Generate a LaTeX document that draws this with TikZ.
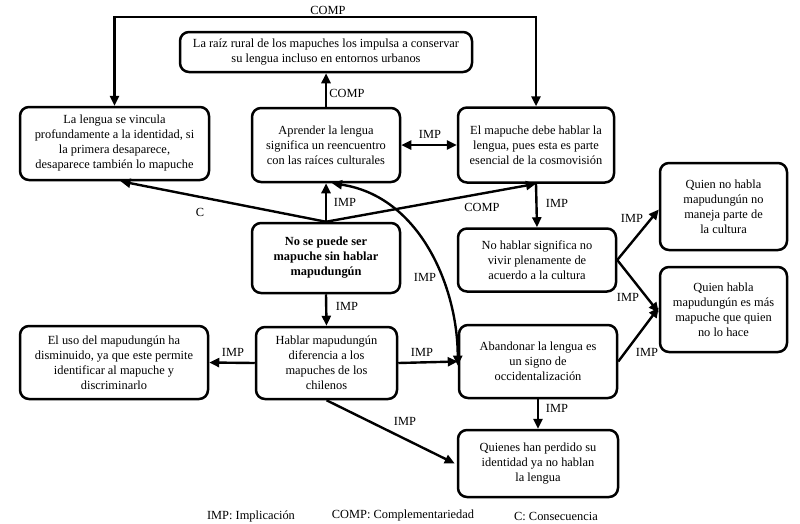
\documentclass[tikz,border=0pt]{standalone}
\usepackage{fontspec}
\setmainfont{Liberation Serif}
\usetikzlibrary{arrows.meta}
\tikzset{
  box/.style={draw, line width=2.5pt, rounded corners=9pt, align=center, inner sep=2pt,
    font=\fontsize{12.4}{15}\selectfont},
  lbl/.style={inner sep=0pt, font=\fontsize{12.4}{14}\selectfont},
  arr/.style={line width=2.4pt, -{Triangle[length=10pt,width=9pt]}},
  dbl/.style={line width=2.4pt, {Triangle[length=10pt,width=9pt]}-{Triangle[length=10pt,width=9pt]}},
}
\begin{document}
\begin{tikzpicture}[x=1pt,y=-1pt]
\useasboundingbox (0,0) rectangle (800,523);
% boxes
\node[box, minimum width=292pt, minimum height=40pt] (raiz) at (326,52)
  {La raíz rural de los mapuches los impulsa a conservar\\ su lengua incluso en entornos urbanos};
\node[box, minimum width=189pt, minimum height=73pt] (lengua) at (114.5,143.5)
  {La lengua se vincula\\ profundamente a la identidad, si\\ la primera desaparece,\\ desaparece también lo mapuche};
\node[box, minimum width=148pt, minimum height=74pt] (aprender) at (326,145)
  {Aprender la lengua\\ significa un reencuentro\\ con las raíces culturales};
\node[box, minimum width=156pt, minimum height=75pt] (mapuche) at (536,145)
  {El mapuche debe hablar la\\ lengua, pues esta es parte\\ esencial de la cosmovisión};
\node[box, minimum width=148pt, minimum height=70pt, font=\fontsize{12.4}{15}\selectfont\bfseries] (nose) at (326,258)
  {No se puede ser\\ mapuche sin hablar\\ mapudungún};
\node[box, minimum width=141pt, minimum height=72pt] (hablar) at (326.5,363)
  {Hablar mapudungún\\ diferencia a los\\ mapuches de los\\ chilenos};
\node[box, minimum width=188pt, minimum height=73pt] (uso) at (114,362.5)
  {El uso del mapudungún ha\\ disminuido, ya que este permite\\ identificar al mapuche y\\ discriminarlo};
\node[box, minimum width=158pt, minimum height=63pt] (nohablar) at (537,260)
  {No hablar significa no\\ vivir plenamente de\\ acuerdo a la cultura};
\node[box, minimum width=158pt, minimum height=73pt] (abandonar) at (538,361.5)
  {Abandonar la lengua es\\ un signo de\\ occidentalización};
\node[box, minimum width=160pt, minimum height=67pt] (quienes) at (538,463.5)
  {Quienes han perdido su\\ identidad ya no hablan\\ la lengua};
\node[box, minimum width=127pt, minimum height=87pt] (quiennohabla) at (723.5,206.5)
  {Quien no habla\\ mapudungún no\\ maneja parte de\\ la cultura};
\node[box, minimum width=127pt, minimum height=85pt] (quienhabla) at (723.5,309.5)
  {Quien habla\\ mapudungún es más\\ mapuche que quien\\ no lo hace};
% connectors
\draw[dbl] (lengua.north) -- ++(0,-89) -| (mapuche.north);
\draw[arr] (aprender.north) -- (raiz.south);
\draw[dbl] (aprender.east) -- (mapuche.west);
\draw[arr] (nose.north) -- (aprender.south);
\draw[arr] (nose.north) -- ([xshift=6pt]lengua.south);
\draw[arr] (nose.north) -- (mapuche.south);
\draw[dbl] ([xshift=6pt]aprender.south) .. controls +(88,13) and +(0,-78) .. ([yshift=-4pt]abandonar.west);
\draw[arr] (nose.south) -- (hablar.north);
\draw[arr] (hablar.west) -- (uso.east);
\draw[arr] (hablar.east) -- (abandonar.west);
\draw[arr] (hablar.south) -- ([xshift=-2pt]quienes.west);
\draw[arr] (mapuche.south) -- (nohablar.north);
\draw[arr] (nohablar.east) -- ([yshift=-3pt]quiennohabla.west);
\draw[arr] (nohablar.east) -- ([yshift=-3pt]quienhabla.west);
\draw[arr] (abandonar.east) -- ([yshift=2pt]quienhabla.west);
\draw[arr] (abandonar.south) -- (quienes.north);
% labels
\node[lbl] (l1) at (328,10) {COMP};
\node[lbl] (l2) at (347,93) {COMP};
\node[lbl] (l3) at (430,134) {IMP};
\node[lbl] (l4) at (345,202) {IMP};
\node[lbl] (l5) at (200,212) {C};
\node[lbl] (l6) at (482,207) {COMP};
\node[lbl] (l7) at (425,277) {IMP};
\node[lbl] (l8) at (347,306) {IMP};
\node[lbl] (l9) at (233,352) {IMP};
\node[lbl] (l10) at (422,352) {IMP};
\node[lbl] (l11) at (405,421) {IMP};
\node[lbl] (l12) at (557,203) {IMP};
\node[lbl] (l13) at (632,218) {IMP};
\node[lbl] (l14) at (628,297) {IMP};
\node[lbl] (l15) at (647,352) {IMP};
\node[lbl] (l16) at (557,408) {IMP};
% legend
\node[lbl] (g1) at (251,516) {IMP: Implicación};
\node[lbl] (g2) at (403,516) {COMP: Complementariedad};
\node[lbl] (g3) at (556,516) {C: Consecuencia};
\end{tikzpicture}
\end{document}
